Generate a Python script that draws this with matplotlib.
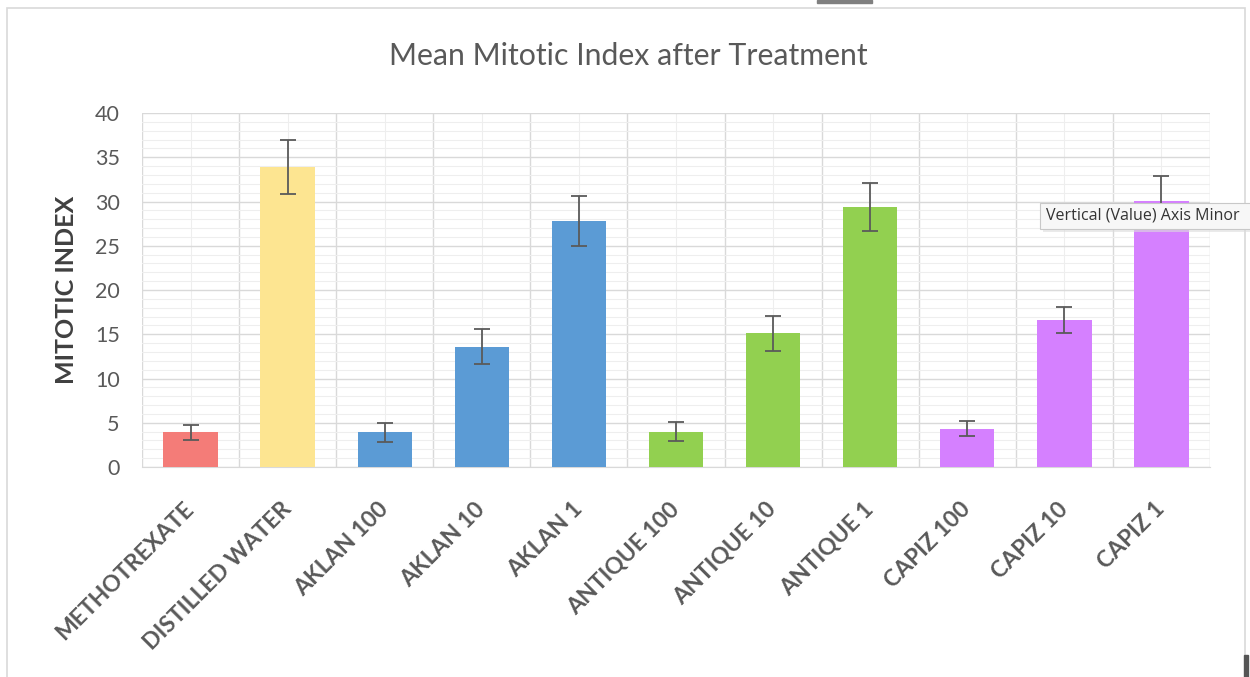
import matplotlib.pyplot as plt
from matplotlib.patches import Rectangle, FancyBboxPatch
import numpy as np

plt.rcParams['font.family'] = ['Lato', 'DejaVu Sans']

# Données
categories = ['METHOTREXATE', 'DISTILLED WATER', 'AKLAN 100', 'AKLAN 10', 'AKLAN 1',
              'ANTIQUE 100', 'ANTIQUE 10', 'ANTIQUE 1', 'CAPIZ 100', 'CAPIZ 10', 'CAPIZ 1']
mean_index = [3.9, 33.9, 3.9, 13.6, 27.8, 4.0, 15.1, 29.4, 4.3, 16.6, 30.1]
errors = [0.9, 3.0, 1.1, 2.0, 2.8, 1.1, 2.0, 2.7, 0.85, 1.5, 2.8]
bar_colors = ['#F47C78', '#FDE591', '#5B9BD5', '#5B9BD5', '#5B9BD5',
              '#92D050', '#92D050', '#92D050', '#D580FF', '#D580FF', '#D580FF']

fig = plt.figure(figsize=(12.5, 6.77), dpi=100)
ax = fig.add_axes([0.1136, 0.3102, 0.8544, 0.5228])

x = np.arange(len(categories))
ax.bar(x, mean_index, width=0.56, color=bar_colors, zorder=3)
ax.errorbar(x, mean_index, yerr=errors, fmt='none', ecolor='#5a5a5a',
            elinewidth=1.3, capsize=6, capthick=1.3, zorder=4)

ax.set_xlim(-0.5, len(categories) - 0.5)
ax.set_ylim(0, 40)
ax.set_yticks(np.arange(0, 41, 5))
ax.set_yticks(np.arange(0, 41, 1), minor=True)
ax.set_xticks(x)
ax.set_xticks(np.arange(-0.5, len(categories), 1), minor=True)

# Quadrillage façon Excel
ax.grid(which='major', axis='y', color='#D9D9D9', linewidth=1, zorder=0)
ax.grid(which='minor', axis='y', color='#EEEEEE', linewidth=0.8, zorder=0)
ax.grid(which='minor', axis='x', color='#D9D9D9', linewidth=1, zorder=0)
ax.grid(which='major', axis='x', color='#EEEEEE', linewidth=0.8, zorder=0)
ax.set_axisbelow(True)

for s in ['top', 'right', 'left']:
    ax.spines[s].set_visible(False)
ax.spines['bottom'].set_color('#D9D9D9')

ax.tick_params(axis='both', which='both', length=0)
ax.tick_params(axis='y', labelsize=15.5, labelcolor='#595959', pad=16)
ax.set_xticklabels(categories, rotation=45, ha='right', va='center',
                   rotation_mode='anchor', fontsize=16.5, fontweight='bold', color='#595959')
ax.tick_params(axis='x', pad=28)

ax.set_ylabel('MITOTIC INDEX', fontsize=18, fontweight='bold', color='#404040', labelpad=12)
fig.text(0.503, 0.918, 'Mean Mitotic Index after Treatment', ha='center', va='center',
         fontsize=21.8, color='#595959')

# Cadre du graphique
fig.patches.append(Rectangle((7 / 1250, -0.05), 1238 / 1250, 1 - 8 / 677 + 0.05,
                             transform=fig.transFigure, fill=False,
                             edgecolor='#D9D9D9', linewidth=1.2))
# Petits éléments d'interface
fig.patches.append(Rectangle((817 / 1250, 1 - 3 / 677), 55 / 1250, 3 / 677,
                             transform=fig.transFigure, color='#7f7f7f'))
fig.patches.append(Rectangle((1244 / 1250, 0), 4 / 1250, 22 / 677,
                             transform=fig.transFigure, color='#555555'))

# Infobulle (avec ombre légère)
fig.patches.append(FancyBboxPatch((1043 / 1250, 1 - 232 / 677), 220 / 1250, 26 / 677,
                                  boxstyle='square,pad=0', transform=fig.transFigure,
                                  facecolor='#DDDDDD', edgecolor='none', alpha=0.6,
                                  zorder=9))
fig.patches.append(FancyBboxPatch((1040 / 1250, 1 - 229 / 677), 220 / 1250, 26 / 677,
                                  boxstyle='square,pad=0', transform=fig.transFigure,
                                  facecolor='#F7F7F7', edgecolor='#C8C8C8', linewidth=0.8,
                                  zorder=10))
fig.text(1046 / 1250, 1 - 216 / 677, 'Vertical (Value) Axis Minor', ha='left', va='center',
         fontsize=11.5, color='#333333', zorder=11, family=['Open Sans', 'DejaVu Sans'])

fig.savefig('out.png', dpi=100)
